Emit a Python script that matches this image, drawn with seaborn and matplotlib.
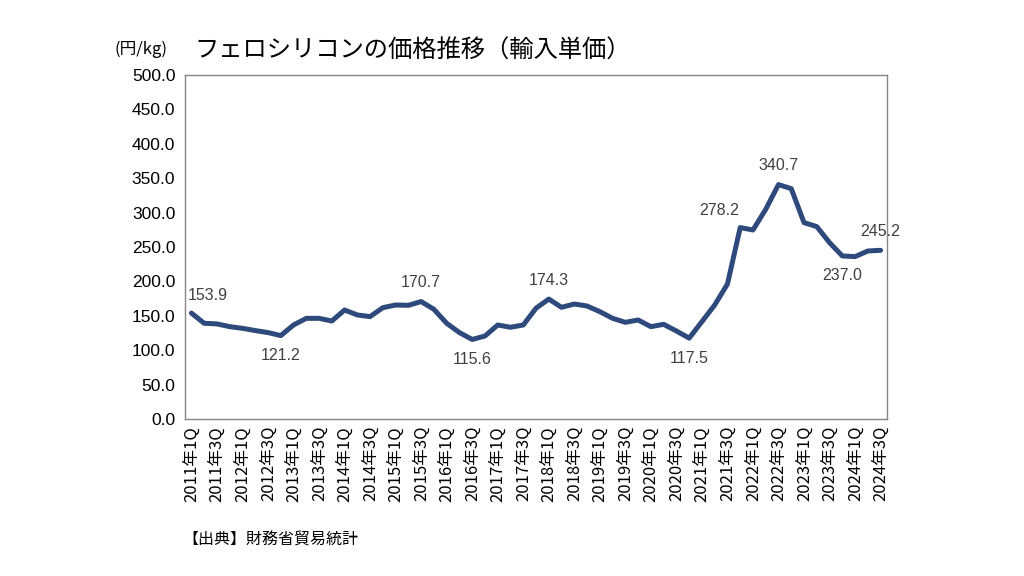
import matplotlib
matplotlib.use('Agg')
import matplotlib.pyplot as plt
import seaborn as sns
import pandas as pd

# ── データ（四半期ごとの輸入単価, 円/kg）
quarters = [f"{y}年{q}Q" for y in range(2011, 2025) for q in range(1, 5)][:55]
price = [
    153.9, 139.1, 138.2, 134.2, 131.8, 128.5, 125.6, 121.2,
    136.6, 146.3, 146.3, 142.4, 158.4, 151.2, 148.8, 161.8,
    165.7, 165.2, 170.7, 159.4, 139.1, 125.6, 115.6, 120.6,
    136.6, 133.3, 136.6, 161.0, 174.3, 162.3, 167.1, 164.2,
    156.0, 146.3, 140.5, 143.9, 134.2, 137.6, 127.9, 117.5,
    141.5, 165.7, 196.2, 278.2, 274.7, 304.8, 340.7, 334.8,
    285.4, 279.6, 256.3, 237.0, 236.0, 244.2, 245.2,
]
yticks = [0, 50, 100, 150, 200, 250, 300, 350, 400, 450, 500]

# 値ラベル: (インデックス, 位置)
labels = [(0, 'above_r'), (7, 'below'), (18, 'above'), (22, 'below'),
          (28, 'above'), (39, 'below'), (43, 'above_l'), (46, 'above'),
          (51, 'below'), (54, 'above')]

df = pd.DataFrame({'quarter': quarters, 'price': price})

sns.set_style('white')
plt.rcParams['font.family'] = ['Liberation Sans', 'Noto Sans CJK JP', 'DejaVu Sans']

fig = plt.figure(figsize=(10.24, 5.76), dpi=100)
ax = fig.add_axes([0.1807, 0.2726, 0.6855, 0.5972])

sns.lineplot(data=df, x='quarter', y='price', ax=ax, color='#2E4A7D',
             linewidth=3.6, sort=False, solid_joinstyle='round',
             solid_capstyle='round')

ax.set_xlim(-0.5, len(quarters) - 0.5)
ax.set_ylim(0, 500)
ax.set_yticks(yticks)
ax.set_yticklabels([f"{v:.1f}" for v in yticks], fontsize=12.5, color='#000000')
ax.set_xticks(range(0, len(quarters), 2))
ax.set_xticklabels(quarters[::2], rotation=90, fontsize=12, color='#000000',
                   family=['Noto Sans CJK JP'])
ax.tick_params(axis='y', length=0, pad=7)
ax.tick_params(axis='x', length=0, pad=5)
ax.set_xlabel('')
ax.set_ylabel('')
for s in ax.spines.values():
    s.set_color('#868686')
    s.set_linewidth(1.0)

# ── 値ラベル
for i, pos in labels:
    v = price[i]
    txt = f"{v:.1f}"
    kw = dict(textcoords='offset points', ha='center', fontsize=11.5,
              color='#404040')
    if pos == 'below':
        ax.annotate(txt, (i, v), xytext=(0, -9), va='top', **kw)
    elif pos == 'above_r':
        ax.annotate(txt, (i, v), xytext=(12, 7), va='bottom', **kw)
    elif pos == 'above_l':
        ax.annotate(txt, (i, v), xytext=(-15, 7), va='bottom', **kw)
    else:
        ax.annotate(txt, (i, v), xytext=(0, 8), va='bottom', **kw)

# ── タイトル・単位・出典
fig.text(0.112, 0.915, '(円/kg)', fontsize=12, color='#000000',
         family=['Noto Sans CJK JP'], va='center')
fig.text(0.19, 0.912, 'フェロシリコンの価格推移（輸入単価）', fontsize=17.5,
         color='#000000', family=['Noto Sans CJK JP'], va='center')
fig.text(0.178, 0.062, '【出典】財務省貿易統計', fontsize=11.5, color='#000000',
         family=['Noto Sans CJK JP'], va='center')

fig.savefig('out.png', dpi=100)
plt.close(fig)
